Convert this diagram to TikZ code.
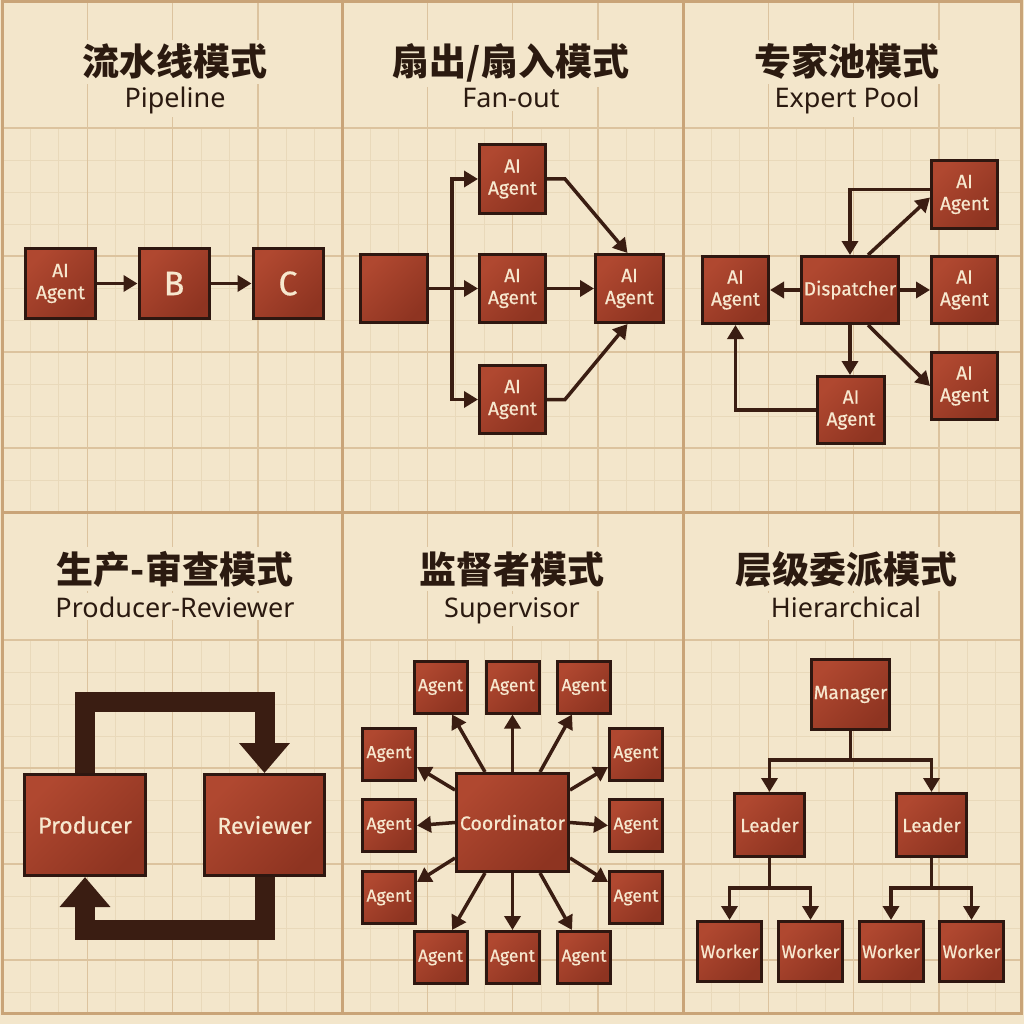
\documentclass[tikz,border=0pt]{standalone}
\usepackage{fontspec}
\setmainfont{Noto Sans}
\newfontfamily\cjk{Noto Sans CJK SC}
\newfontfamily\boxfont{Fira Sans}[FakeBold=0.6]
\usetikzlibrary{arrows.meta}
\definecolor{bg}{HTML}{F3E6CB}
\definecolor{gminor}{HTML}{E9D9BA}
\definecolor{gmajor}{HTML}{DCC39E}
\definecolor{divider}{HTML}{C9A478}
\definecolor{boxlight}{HTML}{B04830}
\definecolor{boxdark}{HTML}{8E3421}
\definecolor{boxborder}{HTML}{2E1710}
\definecolor{arrowcol}{HTML}{3A1D12}
\definecolor{titlecol}{HTML}{2B1A10}
\definecolor{boxtext}{HTML}{F7E8CF}
\tikzset{
  agentbox/.style={draw=boxborder, line width=3pt, rectangle, inner sep=0pt,
    top color=boxlight, bottom color=boxdark, shading angle=45,
    text=boxtext, align=center, font=\boxfont\fontsize{19}{22}\selectfont},
  conn/.style={draw=arrowcol, line width=3.5pt},
  arr/.style={conn, -{Triangle[length=14pt,width=16pt]}},
  bigarr/.style={draw=arrowcol, line width=20pt, line join=miter, -{Triangle[length=30pt,width=49pt]}},
  titletext/.style={font=\cjk\bfseries\fontsize{37}{40}\selectfont, text=titlecol, fill=bg, inner sep=4pt, anchor=base},
  subtext/.style={font=\fontsize{27}{30}\selectfont, text=titlecol, fill=bg, inner sep=3pt, anchor=base},
  minorline/.style={draw=gminor, line width=0.9pt},
  majorline/.style={draw=gmajor, line width=1.4pt},
}
\begin{document}
\begin{tikzpicture}[x=1pt,y=-1pt]
\useasboundingbox (0,0) rectangle (1024,1024);
\fill[bg] (0,0) rectangle (1024,1024);
% grid
\foreach \px in {2,342,683}{
  \foreach \k in {1,2,4,5,7,8,10,11}{
    \draw[minorline] (\px+\k*28.44,128) -- (\px+\k*28.44,512);
    \draw[minorline] (\px+\k*28.44,640) -- (\px+\k*28.44,1013);
  }
  \foreach \k in {1,2,3,5,6,8,9,11}{
    \draw[minorline] (\px,128+\k*32) -- (\px+340,128+\k*32);
    \draw[minorline] (\px,640+\k*32) -- (\px+340,640+\k*32);
  }
  \foreach \k in {4,7,10}{
    \draw[majorline] (\px,128+\k*32) -- (\px+340,128+\k*32);
    \draw[majorline] (\px,640+\k*32) -- (\px+340,640+\k*32);
  }
  \foreach \k in {3,6,9}{
    \draw[majorline] (\px+\k*28.44,2) -- (\px+\k*28.44,512);
    \draw[majorline] (\px+\k*28.44,512) -- (\px+\k*28.44,1013);
  }
}
\draw[majorline, line width=1.8pt] (2,128) -- (1021,128);
\draw[majorline, line width=1.8pt] (2,640) -- (1021,640);
\draw[divider, line width=3pt] (2,2) rectangle (1021,1013);
\draw[divider, line width=3pt] (342,2) -- (342,1013);
\draw[divider, line width=3pt] (683,2) -- (683,1013);
\draw[divider, line width=3pt] (2,512) -- (1021,512);

% titles
\node[titletext] (ti1) at (175,76) {流水线模式};
\node[subtext] (su1) at (175,108) {Pipeline};
\node[titletext] (ti2) at (511,76) {扇出/扇入模式};
\node[subtext] (su2) at (511,108) {Fan-out};
\node[titletext] (ti3) at (847,76) {专家池模式};
\node[subtext] (su3) at (847,108) {Expert Pool};
\node[titletext] (ti4) at (175,583) {生产-审查模式};
\node[subtext] (su4) at (175,617) {Producer-Reviewer};
\node[titletext] (ti5) at (512,583) {监督者模式};
\node[subtext] (su5) at (512,617) {Supervisor};
\node[titletext] (ti6) at (846,583) {层级委派模式};
\node[subtext] (su6) at (846,617) {Hierarchical};

% Panel 1: pipeline
\node[agentbox, minimum width=70pt, minimum height=70pt] (pa) at (60.5,283.5) {AI\\Agent};
\node[agentbox, minimum width=70pt, minimum height=70pt, font=\boxfont\fontsize{34}{36}\selectfont] (pb) at (174,283.5) {B};
\node[agentbox, minimum width=70pt, minimum height=70pt, font=\boxfont\fontsize{34}{36}\selectfont] (pc) at (288,283.5) {C};
\draw[arr] (pa.east) -- (pb.west);
\draw[arr] (pb.east) -- (pc.west);

% Panel 2: fan-out
\node[agentbox, minimum width=67pt, minimum height=68pt] (fin) at (394,288.5) {};
\node[agentbox, minimum width=66pt, minimum height=69pt] (fa1) at (512.5,179) {AI\\Agent};
\node[agentbox, minimum width=66pt, minimum height=68pt] (fa2) at (512.5,288.5) {AI\\Agent};
\node[agentbox, minimum width=66pt, minimum height=68pt] (fa3) at (512.5,399.5) {AI\\Agent};
\node[agentbox, minimum width=68pt, minimum height=68pt] (fout) at (629.5,288.5) {AI\\Agent};
\coordinate (fork) at (452,288.5);
\draw[arr] (fin.east) -- (fa2.west);
\draw[arr] (fork) |- (fa1.west);
\draw[arr] (fork) |- (fa3.west);
\draw[arr] (fa2.east) -- (fout.west);
\draw[arr] (fa1.east) -- ++(18,0) -- ([xshift=-2pt]fout.north);
\draw[arr] (fa3.east) -- ++(18,0) -- ([xshift=-2pt]fout.south);

% Panel 3: expert pool
\node[agentbox, minimum width=97pt, minimum height=67pt] (disp) at (850,290) {Dispatcher};
\node[agentbox, minimum width=66pt, minimum height=67pt] (el) at (735.5,290) {AI\\Agent};
\node[agentbox, minimum width=66pt, minimum height=68pt] (ert) at (964.5,194.5) {AI\\Agent};
\node[agentbox, minimum width=66pt, minimum height=67pt] (erm) at (964.5,290) {AI\\Agent};
\node[agentbox, minimum width=66pt, minimum height=67pt] (erb) at (964.5,386) {AI\\Agent};
\node[agentbox, minimum width=67pt, minimum height=67pt] (eb) at (851,410) {AI\\Agent};
\draw[arr] ([yshift=5pt]ert.west) -| (disp.north);
\draw[arr] ([xshift=18pt]disp.north) -- ([yshift=-3pt]ert.west);
\draw[arr] (disp.west) -- (el.east);
\draw[arr] (disp.east) -- (erm.west);
\draw[arr] (disp.south) -- (disp.south |- eb.north);
\draw[arr] ([xshift=18pt]disp.south) -- (erb.west);
\draw[arr] (eb.west) -| (el.south);

% Panel 4: producer-reviewer
\node[agentbox, minimum width=121pt, minimum height=101pt, font=\boxfont\fontsize{23}{25}\selectfont] (prod) at (85,825) {Producer};
\node[agentbox, minimum width=120pt, minimum height=101pt, font=\boxfont\fontsize{23}{25}\selectfont] (rev) at (264.5,825) {Reviewer};
\draw[bigarr] (prod.north) -- ++(0,-71) -| (rev.north);
\draw[bigarr] (rev.south) -- ++(0,53) -| (prod.south);

% Panel 5: supervisor
\node[agentbox, minimum width=112pt, minimum height=98pt, font=\boxfont\fontsize{19.5}{21}\selectfont] (coord) at (512.5,822.5) {Coordinator};
\tikzset{sag/.style={agentbox, minimum width=53pt, minimum height=52pt, font=\boxfont\fontsize{17.5}{19}\selectfont}}
\node[sag] (st1) at (440.5,687) {Agent};
\node[sag] (st2) at (512.5,687) {Agent};
\node[sag] (st3) at (584,687) {Agent};
\node[sag] (sl1) at (389,754) {Agent};
\node[sag] (sl2) at (389,825.5) {Agent};
\node[sag] (sl3) at (389,897.5) {Agent};
\node[sag] (sr1) at (636,754) {Agent};
\node[sag] (sr2) at (636,825.5) {Agent};
\node[sag] (sr3) at (636,897.5) {Agent};
\node[sag] (sb1) at (440.5,957.5) {Agent};
\node[sag] (sb2) at (512.5,957.5) {Agent};
\node[sag] (sb3) at (584,957.5) {Agent};
\draw[arr] ([xshift=-27.5pt]coord.north) -- ([xshift=11.5pt]st1.south);
\draw[arr] (coord.north) -- (st2.south);
\draw[arr] ([xshift=27.5pt]coord.north) -- ([xshift=-12pt]st3.south);
\draw[arr] ([yshift=32.5pt]coord.west) -- ([yshift=-13pt]sl1.east);
\draw[arr] (coord.west) -- (sl2.east);
\draw[arr] ([yshift=-35.5pt]coord.west) -- ([yshift=15.5pt]sl3.east);
\draw[arr] ([yshift=32.5pt]coord.east) -- ([yshift=-13pt]sr1.west);
\draw[arr] (coord.east) -- (sr2.west);
\draw[arr] ([yshift=-35.5pt]coord.east) -- ([yshift=15.5pt]sr3.west);
\draw[arr] ([xshift=-27.5pt]coord.south) -- ([xshift=11.5pt]sb1.north);
\draw[arr] (coord.south) -- (sb2.north);
\draw[arr] ([xshift=27.5pt]coord.south) -- ([xshift=-12pt]sb3.north);

% Panel 6: hierarchical
\node[agentbox, minimum width=78pt, minimum height=70pt] (mgr) at (850.5,694.5) {Manager};
\node[agentbox, minimum width=70pt, minimum height=63pt] (ld1) at (769.5,825) {Leader};
\node[agentbox, minimum width=70pt, minimum height=63pt] (ld2) at (931.5,825) {Leader};
\tikzset{wk/.style={agentbox, minimum width=64pt, minimum height=60pt, font=\boxfont\fontsize{18}{19}\selectfont}}
\node[wk] (w1) at (729.5,951.5) {Worker};
\node[wk] (w2) at (810.5,951.5) {Worker};
\node[wk] (w3) at (891,951.5) {Worker};
\node[wk] (w4) at (971.5,951.5) {Worker};
\coordinate (mj) at (850.5,760);
\coordinate (lj1) at (769.5,888);
\coordinate (lj2) at (931.5,888);
\draw[conn] (mgr.south) -- (mj);
\draw[arr] (mj) -| (ld1.north);
\draw[arr] (mj) -| (ld2.north);
\draw[conn] (ld1.south) -- (lj1);
\draw[arr] (lj1) -| (w1.north);
\draw[arr] (lj1) -| (w2.north);
\draw[conn] (ld2.south) -- (lj2);
\draw[arr] (lj2) -| (w3.north);
\draw[arr] (lj2) -| (w4.north);
\end{tikzpicture}
\end{document}
